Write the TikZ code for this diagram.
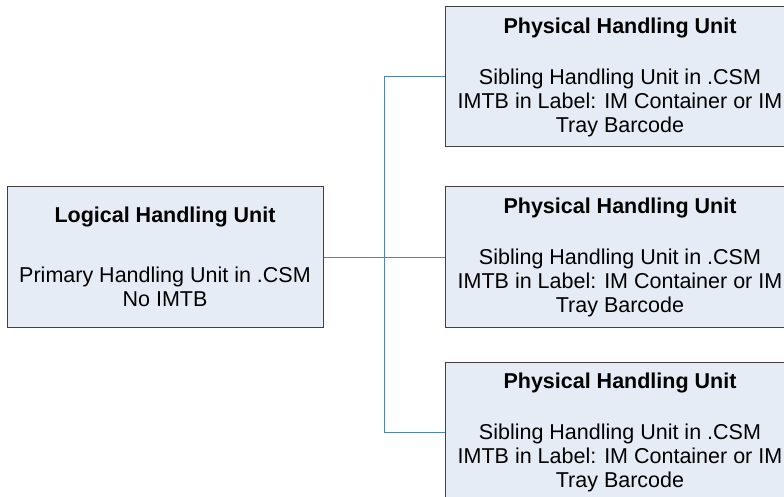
\documentclass[tikz,border=0pt]{standalone}
\usepackage{fontspec}
\setmainfont{Liberation Sans}
\usetikzlibrary{positioning}
\definecolor{boxfill}{RGB}{230,236,245}
\definecolor{linkblue}{RGB}{79,129,189}

\begin{document}
\begin{tikzpicture}[-,
					auto,
					node distance=121pt,
					font=\fontsize{21.5}{24}\selectfont,
					unit box/.style={rectangle,draw=black!75,fill=boxfill,line width=1pt,
					                 inner sep=0pt,align=center,minimum height=140pt},
					logic box/.style={unit box,minimum width=316pt},
					phys box/.style={unit box,minimum width=350pt},
					link/.style={draw=linkblue,line width=1pt}]

  \useasboundingbox (0,0) rectangle (784pt,-497pt);

  \node[logic box] (LHU) at (165pt,-257pt)
    {\textbf{Logical Handling Unit}\\[36pt]
     Primary Handling Unit in .CSM\\No IMTB};
  \node[phys box] (PHU2) [right=of LHU]
    {\textbf{Physical Handling Unit}\\[27pt]
     Sibling Handling Unit in .CSM\\IMTB in Label: IM Container or IM\\Tray Barcode};
  \node[phys box] (PHU1) [above=39pt of PHU2]
    {\textbf{Physical Handling Unit}\\[27pt]
     Sibling Handling Unit in .CSM\\IMTB in Label: IM Container or IM\\Tray Barcode};
  \node[phys box] (PHU3) [below=34pt of PHU2]
    {\textbf{Physical Handling Unit}\\[27pt]
     Sibling Handling Unit in .CSM\\IMTB in Label: IM Container or IM\\Tray Barcode};

  \path[link]
    (PHU1.west) -- ++(-60pt,0) |- (PHU3.west)
    (LHU.east) -- (PHU2.west)
;
\end{tikzpicture}
\end{document}
